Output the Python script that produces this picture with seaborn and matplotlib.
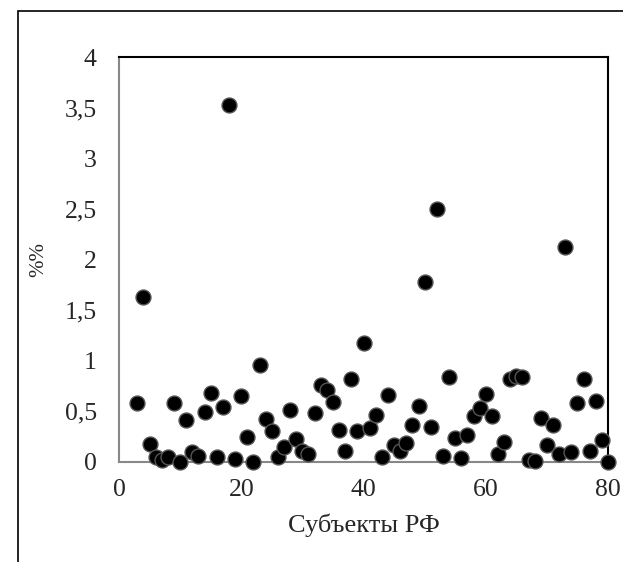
import numpy as np
import pandas as pd
import matplotlib
matplotlib.use("Agg")
import matplotlib.pyplot as plt
import seaborn as sns
from matplotlib.patches import Rectangle

# данные: номер субъекта и доля, %
subjects = list(range(3, 81))
values = [
    0.58, 1.63, 0.18, 0.05, 0.02, 0.05, 0.58, 0.00, 0.41, 0.10,
    0.06, 0.49, 0.68, 0.05, 0.54, 3.53, 0.03, 0.65, 0.25, 0.00,
    0.96, 0.42, 0.31, 0.05, 0.15, 0.51, 0.23, 0.11, 0.08, 0.48,
    0.76, 0.71, 0.59, 0.32, 0.11, 0.82, 0.31, 1.18, 0.34, 0.46,
    0.05, 0.66, 0.17, 0.11, 0.19, 0.37, 0.55, 1.78, 0.35, 2.50,
    0.06, 0.84, 0.24, 0.04, 0.27, 0.45, 0.53, 0.67, 0.45, 0.08,
    0.20, 0.82, 0.85, 0.84, 0.02, 0.01, 0.43, 0.17, 0.37, 0.08,
    2.12, 0.10, 0.58, 0.82, 0.11, 0.60, 0.22, 0.00,
]
x_ticks = [0, 20, 40, 60, 80]
y_ticks = [0, 0.5, 1, 1.5, 2, 2.5, 3, 3.5, 4]
y_tick_labels = ["0", "0,5", "1", "1,5", "2", "2,5", "3", "3,5", "4"]

df = pd.DataFrame({"subject": subjects, "value": values})

sns.set_style("white")
plt.rcParams["font.family"] = ["Liberation Serif", "DejaVu Serif"]

fig = plt.figure(figsize=(6.23, 5.62), dpi=100)
ax = fig.add_axes([119 / 623, 1 - 462 / 562, (608 - 119) / 623, (462 - 57) / 562])

# внешняя рамка
fig.patches.append(Rectangle((18 / 623, -0.01), 1.0, 1 - 11 / 562 + 0.01,
                             transform=fig.transFigure, fill=False,
                             edgecolor="black", linewidth=1.2))

sns.scatterplot(data=df, x="subject", y="value", ax=ax, s=115,
                color="black", edgecolor="#555555", linewidth=1.0,
                clip_on=False, zorder=3)

ax.set_xlim(0, 80)
ax.set_ylim(0, 4)
ax.set_xticks(x_ticks)
ax.set_xticklabels([str(t) for t in x_ticks])
ax.set_yticks(y_ticks)
ax.set_yticklabels(y_tick_labels)
ax.tick_params(axis="both", direction="out", length=5, width=1,
               color="#888888", labelsize=18.5)
ax.tick_params(axis="y", pad=11)
ax.tick_params(axis="x", pad=7)

for side in ["left", "bottom"]:
    ax.spines[side].set_color("#888888")
    ax.spines[side].set_linewidth(1.5)
for side in ["top", "right"]:
    ax.spines[side].set_color("black")
    ax.spines[side].set_linewidth(1.5)

ax.set_xlabel("Субъекты РФ", fontsize=19, labelpad=9)
ax.set_ylabel("%%", fontsize=15, labelpad=12)

fig.savefig("out.png", dpi=100)
plt.close(fig)
